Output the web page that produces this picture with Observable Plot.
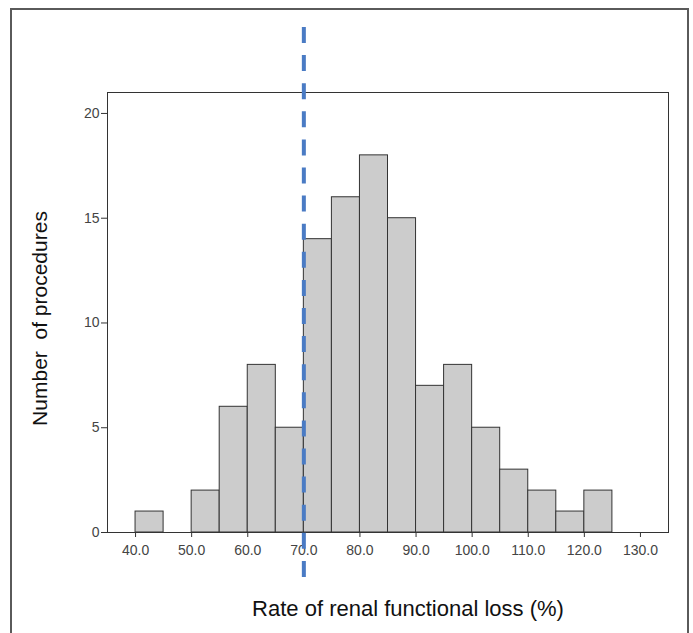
<!DOCTYPE html>
<html>
<head>
<meta charset="utf-8">
<script src="https://cdn.jsdelivr.net/npm/d3@7"></script>
<script src="https://cdn.jsdelivr.net/npm/@observablehq/plot@0.6"></script>
<style>
  html, body { margin: 0; padding: 0; background: #fff; overflow: hidden; }
  #wrap { position: relative; width: 693px; height: 633px; }
  #border { position: absolute; left: 10px; top: 8px; width: 675px; height: 700px;
            border: 2px solid #5a5a5a; border-bottom: none; pointer-events: none; }
</style>
</head>
<body>
<div id="wrap"><div id="border"></div></div>
<script>
const binStart = [40, 45, 50, 55, 60, 65, 70, 75, 80, 85, 90, 95, 100, 105, 110, 115, 120];
const counts   = [1, 0, 2, 6, 8, 5, 14, 16, 18, 15, 7, 8, 5, 3, 2, 1, 2];
const binWidth = 5;
const xTicks = [40, 50, 60, 70, 80, 90, 100, 110, 120, 130];
const yTicks = [0, 5, 10, 15, 20];
const refLine = [70];
const xTitle = "Rate of renal functional loss (%)";
const yTitle = "Number  of procedures";

const bins = binStart.map((s, i) => ({x1: s, x2: s + binWidth, count: counts[i]})).filter(d => d.count > 0);

const chart = Plot.plot({
  width: 693,
  height: 633,
  marginLeft: 107,
  marginRight: 25,
  marginTop: 92,
  marginBottom: 101,
  style: {fontFamily: "'Liberation Sans', Arial, sans-serif", fontSize: "14px", color: "#333", background: "transparent"},
  x: {domain: [35, 135]},
  y: {domain: [0, 21]},
  marks: [
    Plot.rectY(bins, {x1: "x1", x2: "x2", y: "count", fill: "#cccccc", stroke: "#333", strokeWidth: 1}),
    Plot.axisX({ticks: xTicks, tickFormat: d3.format(".1f"), tickSize: 5, tickPadding: 8, label: null, stroke: "#333", fill: "#444"}),
    Plot.axisY({ticks: yTicks, tickSize: 6, tickPadding: 2, label: null, stroke: "#333", fill: "#444"}),
    Plot.frame({stroke: "#333", strokeWidth: 1}),
    Plot.ruleX(refLine, {stroke: "#4a7bc4", strokeWidth: 4, strokeDasharray: "16,12.1", insetTop: -65, insetBottom: -45}),
    Plot.text([xTitle], {frameAnchor: "bottom", dx: 20, dy: 83, text: d => d, fontSize: 22, fill: "#111", textAnchor: "middle"}),
    Plot.text([yTitle], {frameAnchor: "left", dx: -67, dy: 6, rotate: -90, text: d => d, fontSize: 21, fill: "#111", textAnchor: "middle"})
  ]
});
document.getElementById("wrap").prepend(chart);
</script>
</body>
</html>
